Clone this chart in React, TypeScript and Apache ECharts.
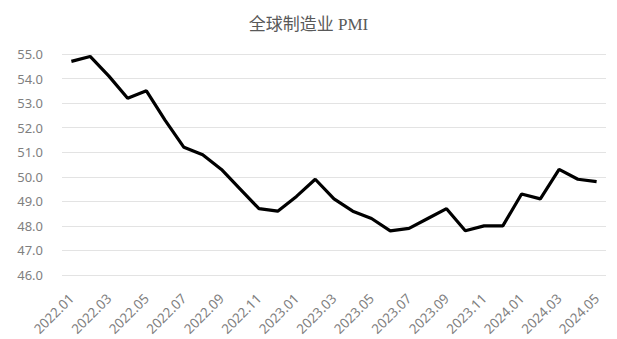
import React, { useEffect, useRef } from "react";
import * as echarts from "echarts";

const categories: string[] = [
  "2022.01", "2022.02", "2022.03", "2022.04", "2022.05", "2022.06", "2022.07", "2022.08", "2022.09", "2022.10", "2022.11", "2022.12",
  "2023.01", "2023.02", "2023.03", "2023.04", "2023.05", "2023.06", "2023.07", "2023.08", "2023.09", "2023.10", "2023.11", "2023.12",
  "2024.01", "2024.02", "2024.03", "2024.04", "2024.05",
];

const pmiValues: number[] = [
  54.7, 54.9, 54.1, 53.2, 53.5, 52.3, 51.2, 50.9, 50.3, 49.5, 48.7, 48.6,
  49.2, 49.9, 49.1, 48.6, 48.3, 47.8, 47.9, 48.3, 48.7, 47.8, 48.0, 48.0,
  49.3, 49.1, 50.3, 49.9, 49.8,
];

const titleText = "全球制造业 PMI";
const yMin = 46;
const yMax = 55;
const yStep = 1;

export default function App() {
  const ref = useRef<HTMLDivElement>(null);
  useEffect(() => {
    if (!ref.current) return;
    const chart = echarts.init(ref.current, null, { renderer: "svg" });
    chart.setOption({
      animation: false,
      backgroundColor: "#ffffff",
      title: {
        text: titleText,
        left: "center",
        top: 11,
        textStyle: {
          fontFamily: "'Liberation Serif', 'Noto Sans CJK SC', serif",
          fontSize: 17,
          fontWeight: "normal",
          color: "#595959",
        },
      },
      grid: { left: 62, right: 11, top: 54, bottom: 64 },
      xAxis: {
        type: "category",
        data: categories,
        boundaryGap: true,
        axisLine: { show: false },
        axisTick: { show: false },
        axisLabel: {
          interval: 1,
          rotate: 45,
          margin: 21,
          fontSize: 13.5,
          color: "#7f7f7f",
          fontFamily: "'Noto Sans', sans-serif",
        },
      },
      yAxis: {
        type: "value",
        min: yMin,
        max: yMax,
        interval: yStep,
        axisLine: { show: false },
        axisTick: { show: false },
        splitLine: { lineStyle: { color: "#e3e3e3", width: 1 } },
        axisLabel: {
          formatter: (v: number) => v.toFixed(1),
          margin: 19,
          fontSize: 13,
          color: "#7f7f7f",
          fontFamily: "'Noto Sans', sans-serif",
        },
      },
      series: [
        {
          type: "line",
          data: pmiValues,
          showSymbol: false,
          symbol: "none",
          lineStyle: { color: "#000000", width: 3.2 },
        },
      ],
    });
    return () => chart.dispose();
  }, []);
  return <div ref={ref} style={{ width: 617, height: 339, position: "absolute", left: 0, top: 0 }} />;
}
